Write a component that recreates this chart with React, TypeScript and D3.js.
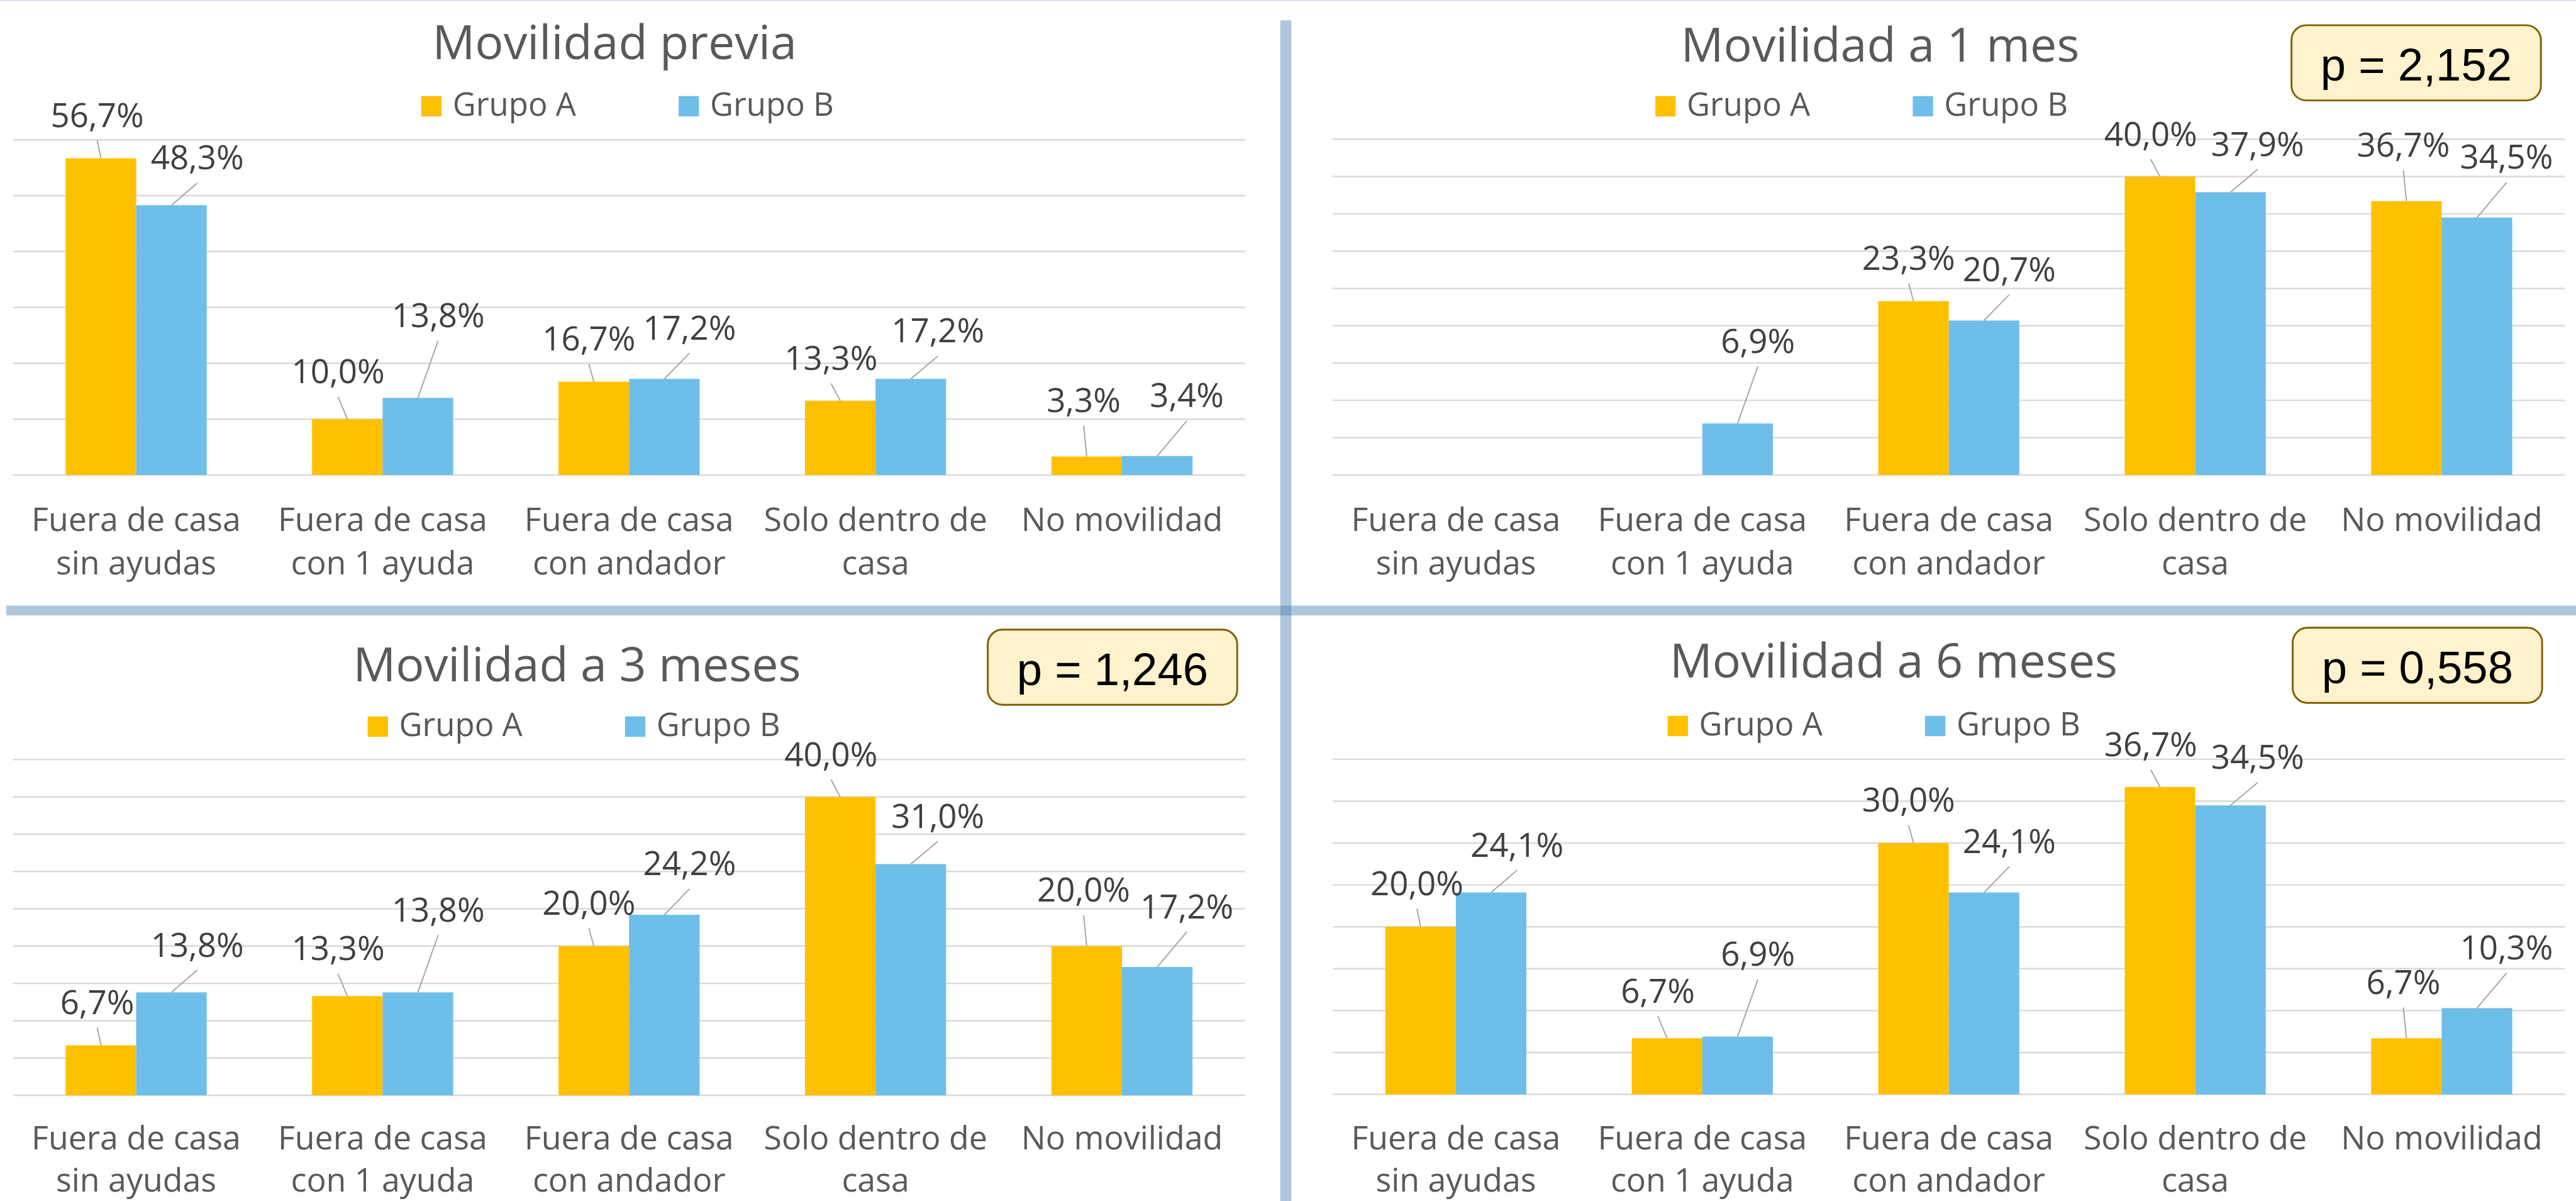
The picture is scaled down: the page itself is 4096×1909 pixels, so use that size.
import React from "react";
import * as d3 from "d3";

// ---------- data ----------
const categories = [
  "Fuera de casa sin ayudas",
  "Fuera de casa con 1 ayuda",
  "Fuera de casa con andador",
  "Solo dentro de casa",
  "No movilidad",
];
const categoryLines = [
  ["Fuera de casa", "sin ayudas"],
  ["Fuera de casa", "con 1 ayuda"],
  ["Fuera de casa", "con andador"],
  ["Solo dentro de", "casa"],
  ["No movilidad"],
];
const seriesNames = ["Grupo A", "Grupo B"];

const previaA = [56.7, 10.0, 16.7, 13.3, 3.3];
const previaB = [48.3, 13.8, 17.2, 17.2, 3.4];
const mes1A = [null, null, 23.3, 40.0, 36.7];
const mes1B = [null, 6.9, 20.7, 37.9, 34.5];
const mes3A = [6.7, 13.3, 20.0, 40.0, 20.0];
const mes3B = [13.8, 13.8, 24.2, 31.0, 17.2];
const mes6A = [20.0, 6.7, 30.0, 36.7, 6.7];
const mes6B = [24.1, 6.9, 24.1, 34.5, 10.3];

const titles = ["Movilidad previa", "Movilidad a 1 mes", "Movilidad a 3 meses", "Movilidad a 6 meses"];
const axisMax = [60, 45, 45, 40];
const axisStep = [10, 5, 5, 5];
const pValues = [null, "p = 2,152", "p = 1,246", "p = 0,558"];

// ---------- layout (reference pixel space 4183 x 1950) ----------
const REF_W = 4183;
const REF_H = 1950;
const S = 4096 / REF_W;

const panels = [
  { x0: 21, x1: 2022, top: 227, bottom: 771, titleX: 998, titleY: 96, legX: 684, legY: 156, catY: 862, lineGap: 70, box: null },
  { x0: 2164, x1: 4165, top: 226, bottom: 771, titleX: 3053, titleY: 100, legX: 2688, legY: 156, catY: 862, lineGap: 70, box: { x: 3721, y: 41 } },
  { x0: 21, x1: 2022, top: 1233, bottom: 1778, titleX: 937, titleY: 1106, legX: 597, legY: 1163, catY: 1866, lineGap: 68, box: { x: 1604, y: 1022 } },
  { x0: 2164, x1: 4165, top: 1232.5, bottom: 1776.5, titleX: 3075, titleY: 1100, legX: 2708, legY: 1162, catY: 1866, lineGap: 68, box: { x: 3723, y: 1019 } },
];

// label nudges relative to bar top-centre (same custom layout in all four charts)
const nudgeA = [[-6, -51], [-15, -58], [-8, -51], [-15, -50], [-5, -72]];
const nudgeB = [[42, -58], [33, -115], [41, -64], [44, -59], [48, -79]];

const COLORS = ["#FFC000", "#6EBEEA"];
const TEXT = "#595959";
const LABEL = "#404040";
const GRID = "#D9D9D9";
const FONT = "'Open Sans', 'Noto Sans', sans-serif";
const PFONT = "'Liberation Sans', Arial, sans-serif";

const fmt = (v: number) => v.toFixed(1).replace(".", ",") + "%";

function Panel({ idx, a, b }: { idx: number; a: (number | null)[]; b: (number | null)[] }) {
  const p = panels[idx];
  const x0 = d3.scaleBand<string>().domain(categories).range([p.x0, p.x1]).padding(0);
  const x1 = d3.scaleBand<string>().domain(seriesNames).range([0, x0.bandwidth()]).paddingInner(0).paddingOuter(0.7475);
  const y = d3.scaleLinear().domain([0, axisMax[idx]]).range([p.bottom, p.top]);
  const ticks = d3.range(0, axisMax[idx] + 0.001, axisStep[idx]);
  const series = [a, b];
  const nudges = [nudgeA, nudgeB];
  return (
    <g>
      {ticks.map((t) => (
        <line key={t} x1={p.x0} x2={p.x1} y1={y(t)} y2={y(t)} stroke={GRID} strokeWidth={2.5} />
      ))}
      {series.map((vals, si) =>
        vals.map((v, ci) =>
          v == null ? null : (
            <rect
              key={`${si}-${ci}`}
              x={(x0(categories[ci]) as number) + (x1(seriesNames[si]) as number)}
              y={y(v)}
              width={x1.bandwidth()}
              height={y(0) - y(v)}
              fill={COLORS[si]}
            />
          )
        )
      )}
      {series.map((vals, si) =>
        vals.map((v, ci) => {
          if (v == null) return null;
          const cx = (x0(categories[ci]) as number) + (x1(seriesNames[si]) as number) + x1.bandwidth() / 2;
          const ty = y(v);
          const [dx, dy] = nudges[si][ci];
          const lx = cx + dx;
          const ly = ty + dy;
          return (
            <g key={`l${si}-${ci}`}>
              <line x1={cx} y1={ty} x2={lx} y2={ly + 22} stroke="#A6A6A6" strokeWidth={2} />
              <text x={lx} y={ly} textAnchor="middle" fontFamily={FONT} fontSize={54} fill={LABEL}>
                {fmt(v)}
              </text>
            </g>
          );
        })
      )}
      {categoryLines.map((lines, ci) => (
        <text
          key={`c${ci}`}
          x={(x0(categories[ci]) as number) + x0.bandwidth() / 2}
          y={p.catY}
          textAnchor="middle"
          fontFamily={FONT}
          fontSize={53}
          fill={TEXT}
        >
          {lines.map((ln, li) => (
            <tspan key={li} x={(x0(categories[ci]) as number) + x0.bandwidth() / 2} dy={li === 0 ? 0 : p.lineGap}>
              {ln}
            </tspan>
          ))}
        </text>
      ))}
      <text x={p.titleX} y={p.titleY} textAnchor="middle" fontFamily={FONT} fontSize={77} fill={TEXT}>
        {titles[idx]}
      </text>
      {seriesNames.map((s, si) => (
        <g key={s} transform={`translate(${p.legX + si * 418},${p.legY})`}>
          <rect x={0} y={0} width={33} height={33} fill={COLORS[si]} />
          <text x={51} y={32} fontFamily={FONT} fontSize={52} fill={TEXT}>
            {s}
          </text>
        </g>
      ))}
      {p.box && pValues[idx] && (
        <g transform={`translate(${p.box.x},${p.box.y})`}>
          <rect x={0} y={0} width={405} height={122} rx={24} ry={24} fill="#FFF2CC" stroke="#7F6000" strokeWidth={3} />
          <text x={202.5} y={90} textAnchor="middle" fontFamily={PFONT} fontSize={74} fill="#000">
            {pValues[idx]}
          </text>
        </g>
      )}
    </g>
  );
}

export default function App() {
  return (
    <svg
      width={4096}
      height={1909}
      style={{ position: "absolute", left: 0, top: 0, background: "#fff" }}
    >
      <g transform={`scale(${S})`}>
        <rect x={0} y={0} width={REF_W} height={REF_H} fill="#fff" />
        <rect x={0} y={0} width={REF_W} height={2} fill="#DCE3EC" />
        <Panel idx={0} a={previaA} b={previaB} />
        <Panel idx={1} a={mes1A} b={mes1B} />
        <Panel idx={2} a={mes3A} b={mes3B} />
        <Panel idx={3} a={mes6A} b={mes6B} />
        <rect x={2079} y={33} width={18} height={REF_H - 33} fill="rgb(55,115,167)" fillOpacity={0.4} />
        <rect x={10} y={983} width={REF_W - 10} height={16} fill="rgb(55,115,167)" fillOpacity={0.4} />
      </g>
    </svg>
  );
}
